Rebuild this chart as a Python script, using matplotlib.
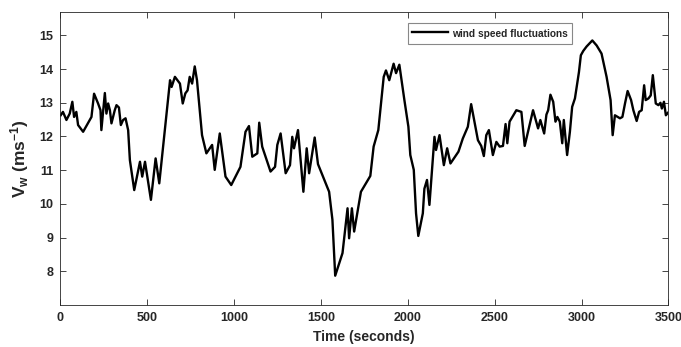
"""Wind speed fluctuation trace, MATLAB-like look."""

import matplotlib
matplotlib.use("Agg")
import matplotlib.pyplot as plt

TEXT = "#262626"
SPINE = "#262626"
LEGEND_EDGE = "#6b6b6b"

time_s = [
    4, 17, 37, 56, 71, 81, 94, 104, 133, 181, 196, 219, 233, 238, 258, 267,
    277, 287, 296, 315, 325, 339, 350, 363, 377, 392, 402, 427, 460, 473, 489,
    523, 550, 571, 633, 642, 661, 690, 706, 721, 734, 746, 760, 775, 788, 817,
    842, 875, 890, 919, 952, 985, 1038, 1067, 1087, 1106, 1135, 1146, 1163,
    1211, 1237, 1250, 1269, 1298, 1323, 1336, 1346, 1369, 1400, 1419, 1433,
    1465, 1484, 1548, 1567, 1583, 1625, 1654, 1663, 1679, 1692, 1731, 1785,
    1804, 1831, 1862, 1875, 1894, 1919, 1933, 1952, 1981, 2004, 2015, 2035,
    2048, 2061, 2087, 2096, 2111, 2125, 2154, 2163, 2183, 2208, 2227, 2246,
    2292, 2317, 2346, 2365, 2404, 2423, 2438, 2452, 2467, 2490, 2510, 2529,
    2548, 2563, 2573, 2586, 2625, 2654, 2673, 2721, 2750, 2763, 2785, 2798,
    2808, 2821, 2837, 2850, 2861, 2875, 2889, 2898, 2917, 2933, 2946, 2962,
    2985, 2996, 3010, 3029, 3062, 3087, 3115, 3144, 3167, 3179, 3192, 3221,
    3235, 3250, 3265, 3285, 3298, 3317, 3331, 3346, 3360, 3369, 3385, 3398,
    3410, 3427, 3442, 3454, 3462, 3474, 3485, 3500,
]
wind_speed = [
    12.63, 12.73, 12.49, 12.68, 13.03, 12.58, 12.73, 12.34, 12.14, 12.58,
    13.27, 12.98, 12.78, 12.19, 13.29, 12.68, 12.98, 12.78, 12.39, 12.78,
    12.93, 12.86, 12.34, 12.49, 12.54, 12.19, 11.30, 10.41, 11.25, 10.81,
    11.25, 10.12, 11.35, 10.61, 13.67, 13.47, 13.77, 13.57, 12.98, 13.28,
    13.37, 13.77, 13.57, 14.08, 13.67, 12.04, 11.50, 11.75, 11.01, 12.09,
    10.81, 10.56, 11.10, 12.14, 12.31, 11.40, 11.50, 12.41, 11.70, 10.96,
    11.10, 11.75, 12.09, 10.91, 11.15, 11.99, 11.65, 12.19, 10.36, 11.65,
    10.91, 11.97, 11.18, 10.36, 9.53, 7.87, 8.54, 9.87, 8.98, 9.87, 9.18,
    10.36, 10.83, 11.70, 12.19, 13.77, 13.96, 13.67, 14.16, 13.88, 14.13,
    13.08, 12.29, 11.45, 11.01, 9.72, 9.05, 9.72, 10.45, 10.71, 9.97, 11.99,
    11.60, 12.04, 11.15, 11.65, 11.20, 11.55, 11.94, 12.29, 12.96, 11.89,
    11.72, 11.42, 12.04, 12.19, 11.45, 11.84, 11.70, 11.72, 12.37, 11.80,
    12.44, 12.78, 12.73, 11.72, 12.78, 12.24, 12.49, 12.09, 12.65, 12.78,
    13.24, 13.03, 12.44, 12.58, 12.44, 11.80, 12.49, 11.45, 12.14, 12.88,
    13.13, 13.91, 14.41, 14.54, 14.67, 14.85, 14.70, 14.46, 13.77, 13.08,
    12.04, 12.63, 12.54, 12.58, 12.98, 13.35, 13.08, 12.78, 12.46, 12.73,
    12.78, 13.52, 13.08, 13.13, 13.22, 13.82, 12.98, 12.93, 13.00, 12.83,
    13.03, 12.63, 12.72,
]

x_ticks = [0, 500, 1000, 1500, 2000, 2500, 3000, 3500]
y_ticks = [8, 9, 10, 11, 12, 13, 14, 15]

plt.rcParams.update(
    {
        "font.family": ["Liberation Sans", "DejaVu Sans"],
        "font.weight": "bold",
        "mathtext.fontset": "custom",
        "mathtext.rm": "Liberation Sans:bold",
        "mathtext.bf": "Liberation Sans:bold",
        "mathtext.it": "Liberation Sans:bold",
        "text.color": TEXT,
        "axes.labelcolor": TEXT,
        "xtick.color": TEXT,
        "ytick.color": TEXT,
    }
)

fig = plt.figure(figsize=(6.81, 3.47), dpi=100)
ax = fig.add_axes([0.0881, 0.121, 0.8935, 0.845])

ax.plot(time_s, wind_speed, color="black", linewidth=1.7,
        label="wind speed fluctuations")

ax.set_xlim(0, 3500)
ax.set_ylim(7, 15.7)
ax.set_xticks(x_ticks)
ax.set_yticks(y_ticks)
ax.tick_params(direction="in", length=4, width=0.6, top=True, right=True,
               labelsize=9, pad=5, colors=TEXT)
for lab in ax.get_xticklabels() + ax.get_yticklabels():
    lab.set_fontweight("bold")
for side in ax.spines.values():
    side.set_color(SPINE)
    side.set_linewidth(0.6)

ax.set_xlabel("Time (seconds)", fontsize=10, fontweight="bold", labelpad=4)
ax.set_ylabel(r"V$_{\mathrm{w}}$ (ms$^{\mathrm{-1}}$)", fontsize=12.5,
              fontweight="bold", labelpad=6)

leg = ax.legend(loc="upper right", bbox_to_anchor=(0.842, 0.963),
                fontsize=7.3, frameon=True, fancybox=False,
                handlelength=3.5, handletextpad=0.45, handleheight=1.6,
                borderpad=0.4, borderaxespad=0)
leg.get_frame().set_edgecolor(LEGEND_EDGE)
leg.get_frame().set_linewidth(0.8)
for t in leg.get_texts():
    t.set_fontweight("bold")

fig.savefig("out.png", dpi=100)
